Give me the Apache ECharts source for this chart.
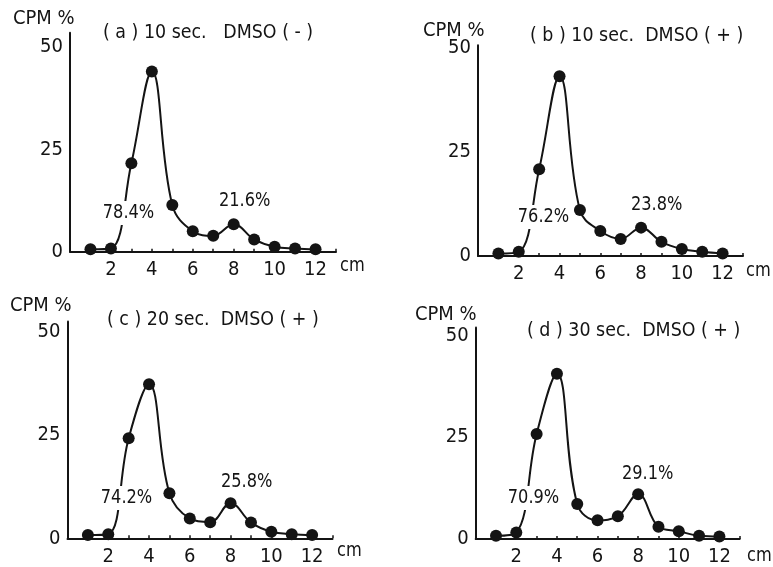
<!DOCTYPE html>
<html>
<head>
<meta charset="utf-8">
<script src="https://cdn.jsdelivr.net/npm/echarts@6/dist/echarts.min.js"></script>
<style>
html,body{margin:0;padding:0;background:#fff;}
#chart{width:773px;height:567px;}
</style>
</head>
<body>
<div id="chart"></div>
<script>
// ---- data ----
var positions = [1, 2, 3, 4, 5, 6, 7, 8, 9, 10, 11, 12];
var seriesA = [0.6, 0.8, 21.6, 44.0, 11.4, 5.0, 3.9, 6.7, 3.0, 1.2, 0.8, 0.6];
var seriesB = [0.6, 1.0, 20.8, 43.1, 11.0, 6.0, 4.1, 6.8, 3.4, 1.7, 1.0, 0.6];
var seriesC = [0.8, 1.0, 24.2, 37.3, 10.9, 4.8, 3.9, 8.5, 3.8, 1.6, 1.0, 0.8];
var seriesD = [0.8, 1.6, 25.8, 40.6, 8.6, 4.6, 5.6, 11.0, 3.0, 1.9, 0.8, 0.6];
var panelTitles = ['( a ) 10 sec.   DMSO ( - )', '( b ) 10 sec.  DMSO ( + )', '( c ) 20 sec.  DMSO ( + )', '( d ) 30 sec.  DMSO ( + )'];
var leftPct = ['78.4%', '76.2%', '74.2%', '70.9%'];
var rightPct = ['21.6%', '23.8%', '25.8%', '29.1%'];
var yTicks = [0, 25, 50];
var xTickLabels = [2, 4, 6, 8, 10, 12];
var yName = 'CPM %';
var xName = 'cm';

var FONT = "'DejaVu Sans Condensed', 'Liberation Sans', sans-serif";
var ink = '#141414';

var allSeries = [seriesA, seriesB, seriesC, seriesD];
// layout (pixels)
var grids = [
  {left: 70, top: 32.7, width: 266, height: 219, ymax: 53.5},
  {left: 478, top: 45.3, width: 265, height: 210.7, ymax: 50.5},
  {left: 67.5, top: 321.4, width: 265, height: 216.9, ymax: 52.5},
  {left: 475.7, top: 327.4, width: 264, height: 214.9, ymax: 52}
];
var textPos = [
  {cpm: [13, 21], title: [103, 35], lp: [101, 213], rp: [219, 203], cm: [340, 268]},
  {cpm: [423, 33], title: [530, 38], lp: [516, 217], rp: [631, 207], cm: [746, 273]},
  {cpm: [10, 308], title: [107, 322], lp: [99, 498], rp: [221, 484], cm: [337, 553]},
  {cpm: [415, 317], title: [527, 333], lp: [506, 498], rp: [622, 476], cm: [747, 558]}
];

var option = {
  backgroundColor: '#fff',
  animation: false,
  grid: [], xAxis: [], yAxis: [], series: [], graphic: []
};

grids.forEach(function (g, i) {
  option.grid.push({left: g.left, top: g.top, width: g.width, height: g.height, containLabel: false});
  option.xAxis.push({
    type: 'value', gridIndex: i, min: 0, max: 13, interval: 1,
    axisLine: {show: true, lineStyle: {color: ink, width: 2}},
    axisTick: {show: true, inside: true, length: 3, lineStyle: {color: ink, width: 1.5}},
    axisLabel: {
      color: ink, fontFamily: FONT, fontSize: 20, margin: 8,
      formatter: function (v) { return xTickLabels.indexOf(v) >= 0 ? String(v) : ''; }
    },
    splitLine: {show: false}
  });
  option.yAxis.push({
    type: 'value', gridIndex: i, min: 0, max: g.ymax, interval: 25,
    axisLine: {show: true, lineStyle: {color: ink, width: 2}},
    axisTick: {show: false},
    axisLabel: {
      color: ink, fontFamily: FONT, fontSize: 20, margin: 7,
      formatter: function (v) { return yTicks.indexOf(v) >= 0 ? String(v) : ''; }
    },
    splitLine: {show: false}
  });
  option.series.push({
    type: 'line', xAxisIndex: i, yAxisIndex: i,
    data: positions.map(function (x, k) { return [x, allSeries[i][k]]; }),
    smooth: 0.4,
    symbol: 'circle', symbolSize: 12,
    itemStyle: {color: ink},
    lineStyle: {color: ink, width: 2},
    z: 2
  });
  var t = textPos[i];
  var common = {fill: ink, fontFamily: FONT, fontSize: 20, textVerticalAlign: 'middle'};
  option.graphic.push(
    {type: 'text', z: 100, left: t.cpm[0], top: t.cpm[1] - 11, scaleX: 1.05, style: Object.assign({}, common, {text: yName, fontSize: 19})},
    {type: 'text', z: 100, left: t.title[0], top: t.title[1] - 12, scaleX: 0.97, style: Object.assign({}, common, {text: panelTitles[i]})},
    {type: 'text', z: 100, left: t.lp[0], top: t.lp[1] - 12, scaleX: 0.9, style: Object.assign({}, common, {text: leftPct[i], backgroundColor: '#fff', padding: [2, 2]})},
    {type: 'text', z: 100, left: t.rp[0], top: t.rp[1] - 12, scaleX: 0.9, style: Object.assign({}, common, {text: rightPct[i]})},
    {type: 'text', z: 100, left: t.cm[0], top: t.cm[1] - 12, scaleX: 0.9, style: Object.assign({}, common, {text: xName})}
  );
});

var chart = echarts.init(document.getElementById('chart'), null, {renderer: 'canvas'});
chart.setOption(option);
</script>
</body>
</html>
